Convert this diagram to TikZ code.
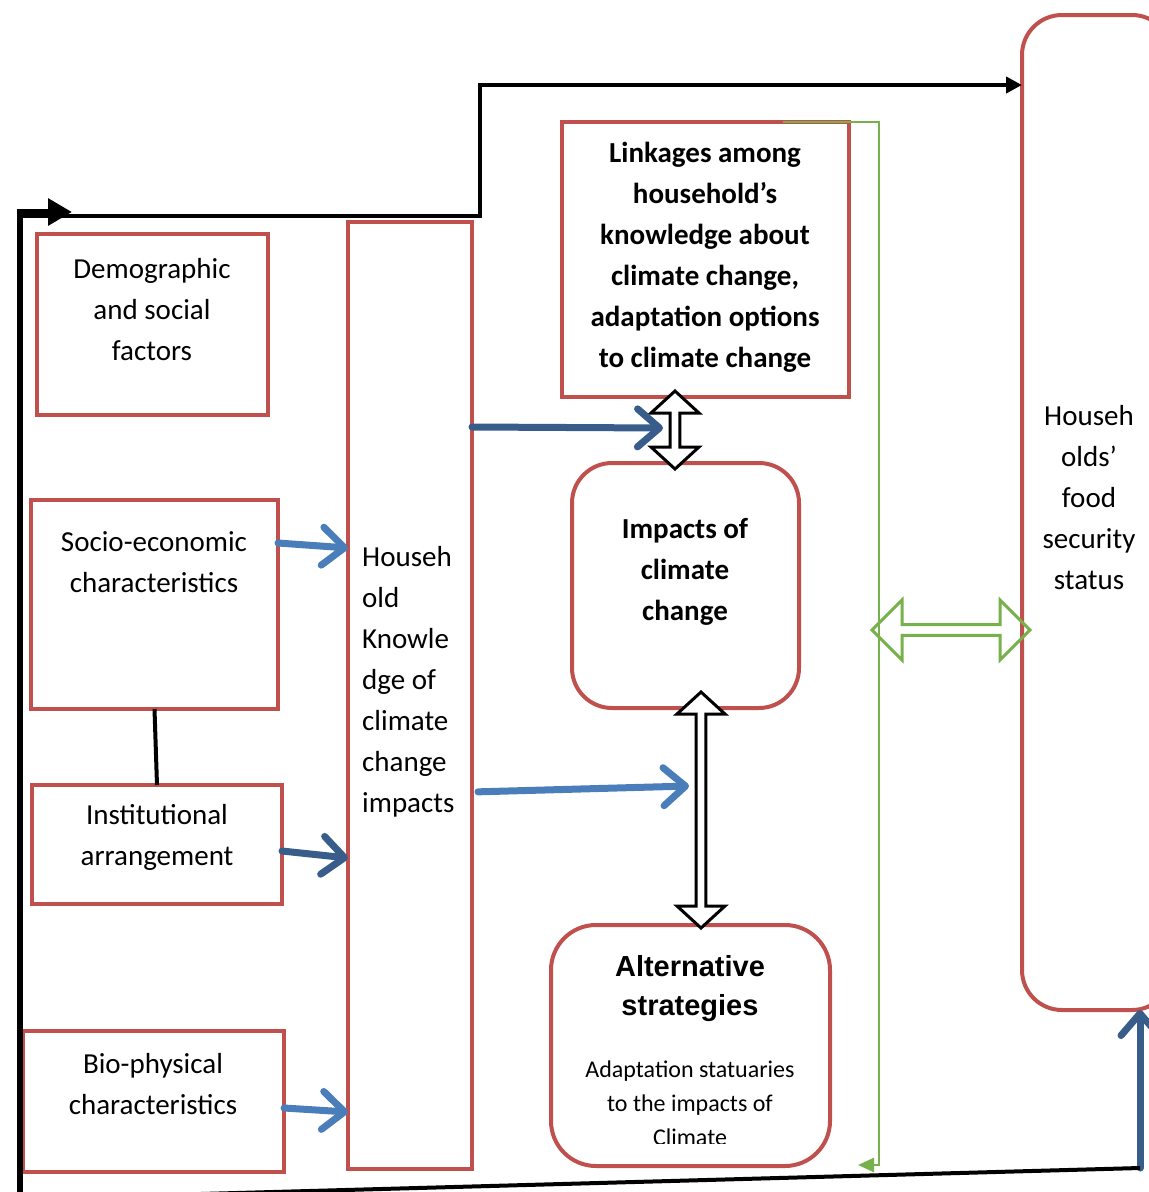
\documentclass[tikz,border=0pt]{standalone}
\usepackage{fontspec}
\setmainfont{Carlito}
\newfontfamily\arialfont{Liberation Sans}
\usetikzlibrary{arrows.meta,shapes.arrows,calc}
\definecolor{boxred}{HTML}{C0504D}
\definecolor{lightblue}{HTML}{4A7EBB}
\definecolor{darkblue}{HTML}{385D8A}
\definecolor{linkgreen}{HTML}{77B14B}
\tikzstyle{redbox} = [draw=boxred, line width=4pt, rectangle, inner sep=0pt, outer sep=0pt]
\tikzstyle{roundbox} = [redbox, rounded corners=40pt]
\tikzstyle{bodytext} = [font=\fontsize{29}{41}\selectfont, align=center, inner sep=0pt]
\tikzstyle{boldtext} = [bodytext, font=\fontsize{29}{41}\selectfont\bfseries]
\tikzstyle{bluearrow} = [line width=7pt, line cap=round, -{Straight Barb[round, length=22pt, width=38pt]}]
\tikzstyle{fatarrow} = [double arrow, draw=black, line width=3pt, fill=white, inner sep=0pt, minimum width=48pt, double arrow head extend=6pt, double arrow tip angle=95]

\begin{document}
\begin{tikzpicture}[x=1pt, y=-1pt]
\useasboundingbox (0,0) rectangle (1149,1192);
\clip (0,0) rectangle (1149,1192);

% left column
\node[redbox, minimum width=231pt, minimum height=181pt] (demo) at (152.5,324.5) {};
\node[bodytext] (demotext) at (152,310) {Demographic\\and social\\factors};
\node[redbox, minimum width=247pt, minimum height=209pt] (socio) at (154.5,604.5) {};
\node[bodytext] (sociotext) at (154,562) {Socio-economic\\characteristics};
\node[redbox, minimum width=250pt, minimum height=119pt] (inst) at (157,844.5) {};
\node[bodytext] (insttext) at (157,837) {Institutional\\arrangement};
\node[redbox, minimum width=261pt, minimum height=141pt] (bio) at (153.5,1101.5) {};
\node[bodytext] (biotext) at (153,1084) {Bio-physical\\characteristics};

% knowledge column
\node[redbox, minimum width=124pt, minimum height=947pt] (know) at (410,695.5) {};
\node[bodytext, align=left, anchor=west] (knowtext) at (362,682) {Househ\\old\\Knowle\\dge of\\climate\\change\\impacts};

% middle column
\node[redbox, minimum width=287pt, minimum height=275pt] (link) at (705.5,259.5) {};
\node[boldtext] (linktext) at (705,257) {Linkages among\\household’s\\knowledge about\\climate change,\\adaptation options\\to climate change};
\node[roundbox, minimum width=227pt, minimum height=245pt] (impacts) at (685.5,585.5) {};
\node[boldtext] (impactstext) at (685,572) {Impacts of\\climate\\change};
\node[roundbox, rounded corners=45pt, minimum width=279pt, minimum height=241pt] (alt) at (690.5,1045.5) {};
\node[font=\fontsize{29}{39}\selectfont\arialfont\bfseries, align=center, inner sep=0pt] (alttitle) at (690,989) {Alternative\\strategies};
\begin{scope}
\clip (560,1040) rectangle (820,1143);
\node[font=\fontsize{24}{34}\selectfont, align=center, inner sep=0pt] (alttext) at (690,1103) {Adaptation statuaries\\to the impacts of\\Climate};
\end{scope}

% right column
\node[roundbox, minimum width=150pt, minimum height=995pt] (food) at (1097,512.5) {};
\node[bodytext] (foodtext) at (1089,498) {Househ\\olds’\\food\\security\\status};

% double arrows
\node[fatarrow, rotate=90, minimum height=78pt] (linkimp) at (675,430) {};
\node[fatarrow, rotate=90, minimum height=236pt] (impalt) at (701,810) {};
\node[fatarrow, draw=linkgreen, fill=none, minimum height=158pt, minimum width=60pt, double arrow head extend=7pt, double arrow tip angle=90] (foodlink) at (951,630) {};

% blue arrows
\draw[bluearrow, lightblue] (socio.east |- 0,543) -- (know.west |- 0,548);
\draw[bluearrow, darkblue] (inst.east |- 0,851) -- (know.west |- 0,858);
\draw[bluearrow, lightblue] (bio.east |- 0,1108) -- (know.west |- 0,1112);
\draw[bluearrow, darkblue] (know.east |- 0,427) -- ($(linkimp.center)+(-12,-2)$);
\draw[bluearrow, lightblue, shorten <=6pt] (know.east |- 0,792) -- ($(impalt.center)+(-12,-24)$);
\draw[line width=4pt] (socio.south) -- (inst.north);

% outer frame
\coordinate (corner) at (1140,1168);
\coordinate (frameleft) at (20,1199);
\draw[bluearrow, darkblue] (corner) -- (corner |- food.south);
\draw[line width=4pt] (corner) -- (frameleft);
\draw[line width=6pt, -{Triangle[length=24pt, width=26pt]}] (frameleft) -- (20,212) -- (72,212);
\draw[line width=4pt, -{Triangle[length=16pt, width=16pt]}] (20,216) -- (480,216) -- (480,85) -- (food.west |- 0,85);

% green feedback
\coordinate (greentop) at (879,122);
\coordinate (greenbottom) at (879,1165);
\draw[linkgreen, line width=2.5pt, -{Triangle[length=16pt, width=14pt]}] ([xshift=-66pt]link.north east) -- (greentop) -- (greenbottom) -- ++(-21,0);
\end{tikzpicture}
\end{document}
